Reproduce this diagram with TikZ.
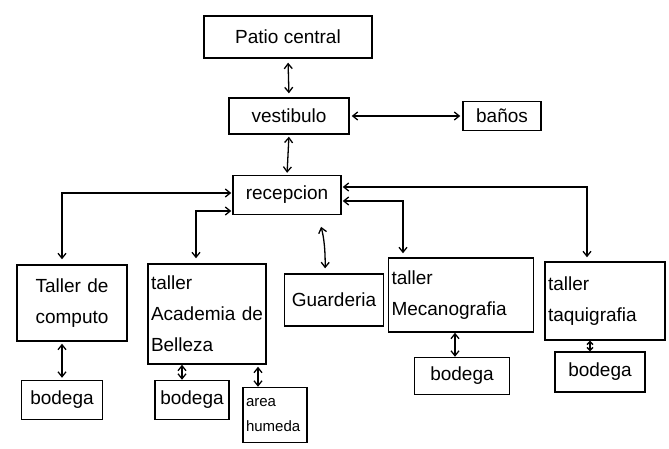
\documentclass[tikz,border=0pt]{standalone}
\usepackage{fontspec}
\setmainfont{Liberation Sans}
\usetikzlibrary{arrows.meta}
\begin{document}
\begin{tikzpicture}[x=1pt,y=-1pt,
  box/.style={draw, line width=1.4pt, inner sep=3pt, font=\fontsize{19}{31}\selectfont},
  boxl/.style={box, align=left, text width=#1},
  link/.style={line width=1.3pt, {Straight Barb[length=5pt,width=8pt]}-{Straight Barb[length=5pt,width=8pt]}}
]
\useasboundingbox (0,0) rectangle (669,449);

% rooms
\node[box, minimum width=168, minimum height=42] (patio) at (288,37) {Patio central};
\node[box, minimum width=120, minimum height=36] (vest) at (289,116) {vestibulo};
\node[box, minimum width=78, minimum height=29] (banos) at (502,116) {baños};
\node[box, minimum width=108, minimum height=39] (recep) at (287,195) {recepcion};
\node[boxl=104pt, minimum width=110, minimum height=76, align=center] (comp) at (72,303) {Taller de\\computo};
\node[box, minimum width=81, minimum height=39] (bod1) at (62,400) {bodega};
\node[boxl=112pt, minimum width=118, minimum height=100] (acad) at (207,314) {taller\\Academia de\\Belleza};
\node[box, minimum width=74, minimum height=39] (bod2) at (192,400) {bodega};
\node[boxl=58pt, minimum width=64, minimum height=55, font=\fontsize{15}{25}\selectfont] (area) at (275,415) {area\\humeda};
\node[box, minimum width=99, minimum height=52] (guard) at (334,300) {Guarderia};
\node[boxl=139pt, minimum width=145, minimum height=74] (meca) at (461,295) {taller\\Mecanografia};
\node[box, minimum width=95, minimum height=37] (bod3) at (462,376) {bodega};
\node[boxl=114pt, minimum width=120, minimum height=78] (taqui) at (605,301) {taller\\taquigrafia};
\node[box, minimum width=90, minimum height=40] (bod4) at (600,372) {bodega};

% connections
\draw[link, shorten <=4pt, shorten >=4pt] (patio.south) -- (vest.north);
\draw[link, shorten <=2pt, shorten >=2pt] (vest.east) -- (banos.west);
\draw[link, shorten <=2pt, shorten >=2pt] (vest.south) -- (recep.north);
\draw[link, shorten <=1pt, shorten >=5pt] ([yshift=2pt]recep.west) -| ([xshift=-10pt]comp.north);
\draw[link, shorten <=1pt, shorten >=5pt] ([yshift=-16pt]recep.west) -| ([xshift=-11pt]acad.north);
\draw[link, shorten <=12pt, shorten >=5pt] ([xshift=31pt]recep.south) to[bend left=8] ([xshift=-9pt]guard.north);
\draw[link, shorten <=1pt, shorten >=4pt] ([yshift=-6pt]recep.east) -| ([xshift=-58pt]meca.north);
\draw[link, shorten <=1pt, shorten >=4pt] ([yshift=8pt]recep.east) -| ([xshift=-18pt]taqui.north);
\draw[link, shorten <=2pt, shorten >=2pt] ([xshift=-10pt]comp.south) -- (bod1.north);
\draw[link] ([xshift=-25pt]acad.south) -- ([xshift=-10pt]bod2.north);
\draw[link, shorten <=2pt] ([xshift=51pt]acad.south) -- ([xshift=-17pt]area.north);
\draw[link] ([xshift=-6pt]meca.south) -- ([xshift=-7pt]bod3.north);
\draw[line width=1.3pt, {Straight Barb[length=3pt,width=6pt]}-{Straight Barb[length=3pt,width=6pt]}] ([xshift=-15pt]taqui.south) -- ([xshift=-10pt]bod4.north);
\end{tikzpicture}
\end{document}
